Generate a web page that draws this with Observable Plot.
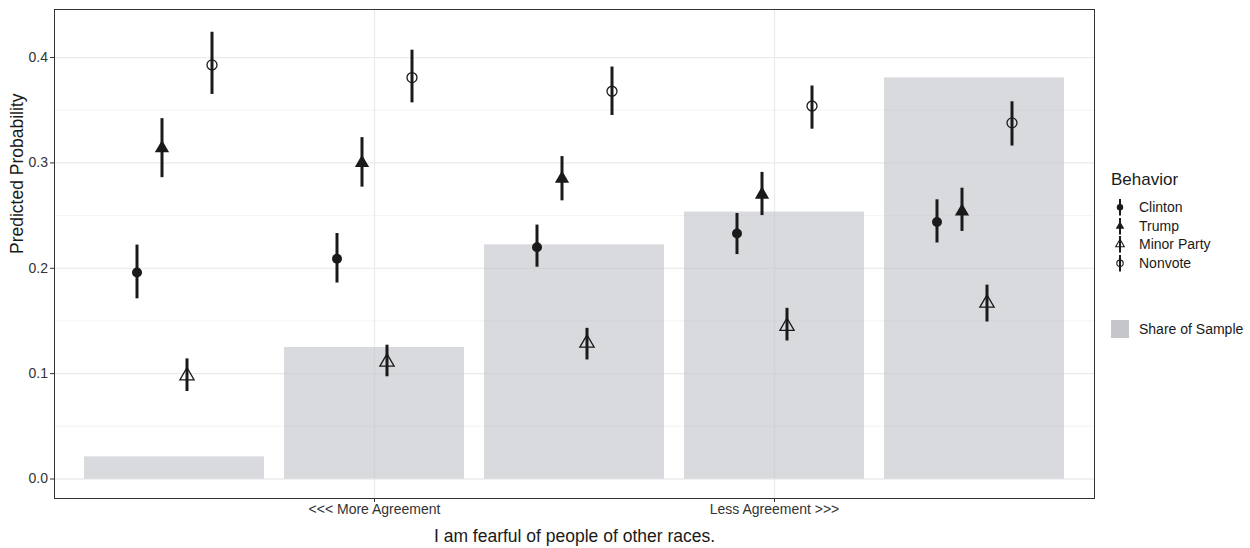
<!DOCTYPE html>
<html>
<head>
<meta charset="utf-8">
<script src="https://cdn.jsdelivr.net/npm/d3@7"></script>
<script src="https://cdn.jsdelivr.net/npm/@observablehq/plot@0.6"></script>
<style>
  html, body { margin: 0; padding: 0; background: #fff; }
  #wrap { position: relative; width: 1250px; height: 548px; font-family: "Liberation Sans", Arial, Helvetica, sans-serif; }
  #legend { position: absolute; left: 1111px; top: 170px; color: #1a1a1a; }
  #legend .title { font-size: 17px; line-height: 20px; margin-bottom: 8px; }
  #legend .row { display: flex; align-items: center; height: 18.6px; font-size: 14px; }
  #legend .row svg { width: 18px; height: 18.6px; margin-right: 10px; }
  #legend .share { margin-top: 48px; display: flex; align-items: center; font-size: 14px; }
  #legend .share .sw { width: 18px; height: 18px; background: #c4c6ca; margin-right: 10px; }
</style>
</head>
<body>
<div id="wrap"><div id="chart"></div><div id="legend"></div></div>
<script>
// ---- data ----
const categories = [1, 2, 3, 4, 5];
const tickValues = [2, 4];
const tickLabels = ["<<< More Agreement", "Less Agreement >>>"];
const yTicks = [0, 0.1, 0.2, 0.3, 0.4];
const yMinorTicks = [0.05, 0.15, 0.25, 0.35];
const shareOfSample = [0.021, 0.1248, 0.2223, 0.2534, 0.3807];

const behaviors = ["Clinton", "Trump", "Minor Party", "Nonvote"];
const clinton   = [0.196, 0.209, 0.220, 0.233, 0.244];
const clintonLo = [0.171, 0.186, 0.201, 0.213, 0.224];
const clintonHi = [0.222, 0.233, 0.241, 0.252, 0.265];
const trump     = [0.314, 0.300, 0.285, 0.270, 0.254];
const trumpLo   = [0.286, 0.277, 0.264, 0.250, 0.235];
const trumpHi   = [0.342, 0.324, 0.306, 0.291, 0.276];
const minor     = [0.098, 0.111, 0.129, 0.145, 0.167];
const minorLo   = [0.083, 0.097, 0.113, 0.131, 0.149];
const minorHi   = [0.114, 0.127, 0.143, 0.162, 0.184];
const nonvote   = [0.393, 0.381, 0.368, 0.354, 0.338];
const nonvoteLo = [0.365, 0.357, 0.345, 0.332, 0.316];
const nonvoteHi = [0.424, 0.407, 0.391, 0.373, 0.358];

const xTitle = "I am fearful of people of other races.";
const yTitle = "Predicted Probability";
const legendTitle = "Behavior";
const shareLabel = "Share of Sample";

// ---- styles ----
const ink = "#1a1a1a";
const seriesStyle = {
  "Clinton":     {symbol: "circle",   fill: ink,    stroke: "none", r: 5,   sw: 0},
  "Trump":       {symbol: "triangle", fill: ink,    stroke: "none", r: 5.3, sw: 0},
  "Minor Party": {symbol: "triangle", fill: "none", stroke: ink,    r: 5.3, sw: 1.3},
  "Nonvote":     {symbol: "circle",   fill: "none", stroke: ink,    r: 5,   sw: 1.3}
};
const dodgeWidth = 0.5;
const barWidth = 0.9;

// ---- build tables ----
const seriesVals = [[clinton, clintonLo, clintonHi], [trump, trumpLo, trumpHi], [minor, minorLo, minorHi], [nonvote, nonvoteLo, nonvoteHi]];
const points = [];
behaviors.forEach((b, i) => {
  const [v, lo, hi] = seriesVals[i];
  const off = (i - (behaviors.length - 1) / 2) * (dodgeWidth / behaviors.length);
  categories.forEach((c, j) => {
    points.push({behavior: b, x: c + off, y: v[j], lo: lo[j], hi: hi[j]});
  });
});
const bars = categories.map((c, j) => ({x1: c - barWidth / 2, x2: c + barWidth / 2, share: shareOfSample[j]}));

const dotMarks = behaviors.map(b => {
  const s = seriesStyle[b];
  return Plot.dot(points.filter(d => d.behavior === b), {
    x: "x", y: "y", symbol: s.symbol, r: s.r, fill: s.fill, stroke: s.stroke, strokeWidth: s.sw
  });
});

const chart = Plot.plot({
  width: 1250,
  height: 548,
  marginLeft: 54,
  marginRight: 156,
  marginTop: 9,
  marginBottom: 50,
  style: {fontFamily: "'Liberation Sans', Arial, Helvetica, sans-serif", background: "#fff", color: ink},
  x: {domain: [0.4, 5.6]},
  y: {domain: [-0.0185, 0.4456]},
  marks: [
    Plot.gridY(yMinorTicks, {stroke: "#f0f0f0", strokeOpacity: 1, strokeWidth: 0.8}),
    Plot.gridY(yTicks, {stroke: "#ebebeb", strokeOpacity: 1, strokeWidth: 1.3}),
    Plot.gridX(tickValues, {stroke: "#ebebeb", strokeOpacity: 1, strokeWidth: 1.3}),
    Plot.rectY(bars, {x1: "x1", x2: "x2", y1: 0, y2: "share", fill: "#c0c2c8", fillOpacity: 0.6}),
    Plot.ruleX(points, {x: "x", y1: "lo", y2: "hi", stroke: ink, strokeWidth: 3}),
    ...dotMarks,
    Plot.frame({stroke: "#333", strokeWidth: 1}),
    Plot.axisX(tickValues, {tickFormat: d => tickLabels[tickValues.indexOf(d)], tickSize: 4, tickPadding: 2, fontSize: 14, color: "#333", label: null}),
    Plot.axisY(yTicks, {tickFormat: d3.format(".1f"), tickSize: 4, tickPadding: 2.5, fontSize: 14, color: "#333", label: null}),
    Plot.text([xTitle], {frameAnchor: "bottom", lineAnchor: "middle", dy: 38, fontSize: 17.5, fill: ink}),
    Plot.text([yTitle], {frameAnchor: "left", lineAnchor: "middle", rotate: -90, dx: -37, fontSize: 17.5, fill: ink})
  ]
});
document.getElementById("chart").appendChild(chart);

// ---- legend ----
const legend = document.getElementById("legend");
const t = document.createElement("div");
t.className = "title"; t.textContent = legendTitle;
legend.appendChild(t);
behaviors.forEach(b => {
  const s = seriesStyle[b];
  const row = document.createElement("div");
  row.className = "row";
  const ns = "http://www.w3.org/2000/svg";
  const svg = document.createElementNS(ns, "svg");
  const line = document.createElementNS(ns, "line");
  line.setAttribute("x1", 9); line.setAttribute("x2", 9);
  line.setAttribute("y1", 1); line.setAttribute("y2", 17.6);
  line.setAttribute("stroke", ink); line.setAttribute("stroke-width", 2);
  svg.appendChild(line);
  const path = document.createElementNS(ns, "path");
  const sym = s.symbol === "circle" ? d3.symbolCircle : d3.symbolTriangle;
  path.setAttribute("d", d3.symbol(sym, Math.PI * 3.2 * 3.2)());
  path.setAttribute("transform", "translate(9,9.3)");
  path.setAttribute("fill", s.fill === "none" ? "none" : ink);
  path.setAttribute("stroke", s.stroke === "none" ? "none" : ink);
  path.setAttribute("stroke-width", 1.1);
  svg.appendChild(path);
  row.appendChild(svg);
  const lab = document.createElement("span");
  lab.textContent = b;
  row.appendChild(lab);
  legend.appendChild(row);
});
const sh = document.createElement("div");
sh.className = "share";
sh.innerHTML = '<div class="sw"></div><span></span>';
sh.querySelector("span").textContent = shareLabel;
legend.appendChild(sh);
</script>
</body>
</html>
